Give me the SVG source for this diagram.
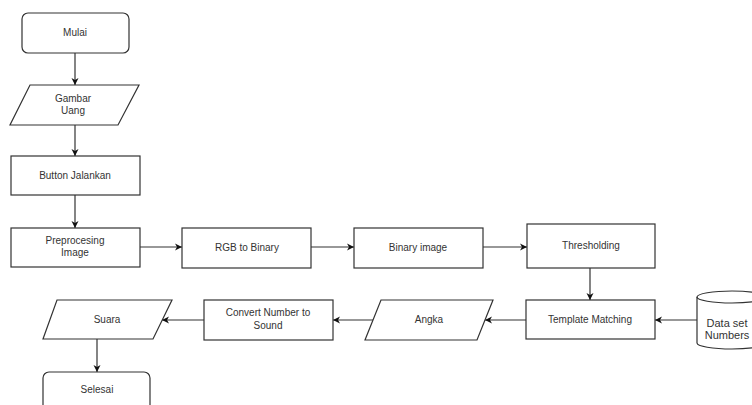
<svg xmlns="http://www.w3.org/2000/svg" width="752" height="405" viewBox="0 0 752 405">
<style>
.s{fill:#fff;stroke:#333;stroke-width:1.2}
.t{font-family:"Liberation Sans",Arial,sans-serif;font-size:10px;fill:#333;text-anchor:middle}
.c{fill:none;stroke:#333;stroke-width:1.2}
</style>
<defs>
<marker id="a" markerWidth="8" markerHeight="8" refX="7" refY="4" orient="auto" markerUnits="userSpaceOnUse">
<path d="M0,0.5 L7,4 L0,7.5 L2,4 Z" fill="#111"/>
</marker>
</defs>
<rect width="752" height="405" fill="#fff"/>
<g id="connectors">
<line class="c" x1="75" y1="53" x2="75" y2="85" marker-end="url(#a)"/>
<line class="c" x1="75" y1="125" x2="75" y2="156" marker-end="url(#a)"/>
<line class="c" x1="75" y1="195" x2="75" y2="228" marker-end="url(#a)"/>
<line class="c" x1="140" y1="247" x2="182" y2="247" marker-end="url(#a)"/>
<line class="c" x1="311" y1="247" x2="354" y2="247" marker-end="url(#a)"/>
<line class="c" x1="483" y1="247" x2="527" y2="247" marker-end="url(#a)"/>
<line class="c" x1="590" y1="268" x2="590" y2="300" marker-end="url(#a)"/>
<line class="c" x1="697" y1="320" x2="655" y2="320" marker-end="url(#a)"/>
<line class="c" x1="526" y1="320" x2="485" y2="320" marker-end="url(#a)"/>
<line class="c" x1="373" y1="320" x2="333" y2="320" marker-end="url(#a)"/>
<line class="c" x1="204" y1="320" x2="162" y2="320" marker-end="url(#a)"/>
<line class="c" x1="97" y1="339" x2="97" y2="372" marker-end="url(#a)"/>
</g>
<g id="mulai">
<rect class="s" x="22" y="13" width="107" height="40" rx="6"/>
<text class="t" x="75" y="36">Mulai</text>
</g>
<g id="gambar">
<polygon class="s" points="30,85 139,85 118,125 10,125"/>
<text class="t" x="73" y="102">Gambar</text>
<text class="t" x="73" y="114">Uang</text>
</g>
<g id="button">
<rect class="s" x="11" y="156" width="129" height="39"/>
<text class="t" x="75" y="179">Button Jalankan</text>
</g>
<g id="preprocesing">
<rect class="s" x="11" y="228" width="129" height="39"/>
<text class="t" x="75" y="244">Preprocesing</text>
<text class="t" x="75" y="256">Image</text>
</g>
<g id="rgb">
<rect class="s" x="182" y="228" width="129" height="40"/>
<text class="t" x="247" y="251">RGB to Binary</text>
</g>
<g id="binary">
<rect class="s" x="354" y="228" width="129" height="40"/>
<text class="t" x="418" y="251">Binary image</text>
</g>
<g id="thresholding">
<rect class="s" x="527" y="224" width="128" height="44"/>
<text class="t" x="591" y="249">Thresholding</text>
</g>
<g id="template">
<rect class="s" x="526" y="300" width="129" height="39"/>
<text class="t" x="590" y="323">Template Matching</text>
</g>
<g id="dataset">
<path class="s" d="M697,297 A35,6 0 0 1 767,297 L767,343 A35,6 0 0 1 697,343 Z"/>
<path class="c" d="M697,297 A35,6 0 0 0 767,297"/>
<text class="t" x="727" y="327" style="font-size:11px">Data set</text>
<text class="t" x="727" y="339" style="font-size:11px">Numbers</text>
</g>
<g id="angka">
<polygon class="s" points="381,300 493,300 477,340 365,340"/>
<text class="t" x="429" y="323">Angka</text>
</g>
<g id="convert">
<rect class="s" x="204" y="300" width="129" height="40"/>
<text class="t" x="268" y="316">Convert Number to</text>
<text class="t" x="268" y="329">Sound</text>
</g>
<g id="suara">
<polygon class="s" points="57,300 172,300 153,339 43,339"/>
<text class="t" x="107" y="323">Suara</text>
</g>
<g id="selesai">
<rect class="s" x="43" y="372" width="107" height="45" rx="6"/>
<text class="t" x="97" y="393">Selesai</text>
</g>
</svg>
